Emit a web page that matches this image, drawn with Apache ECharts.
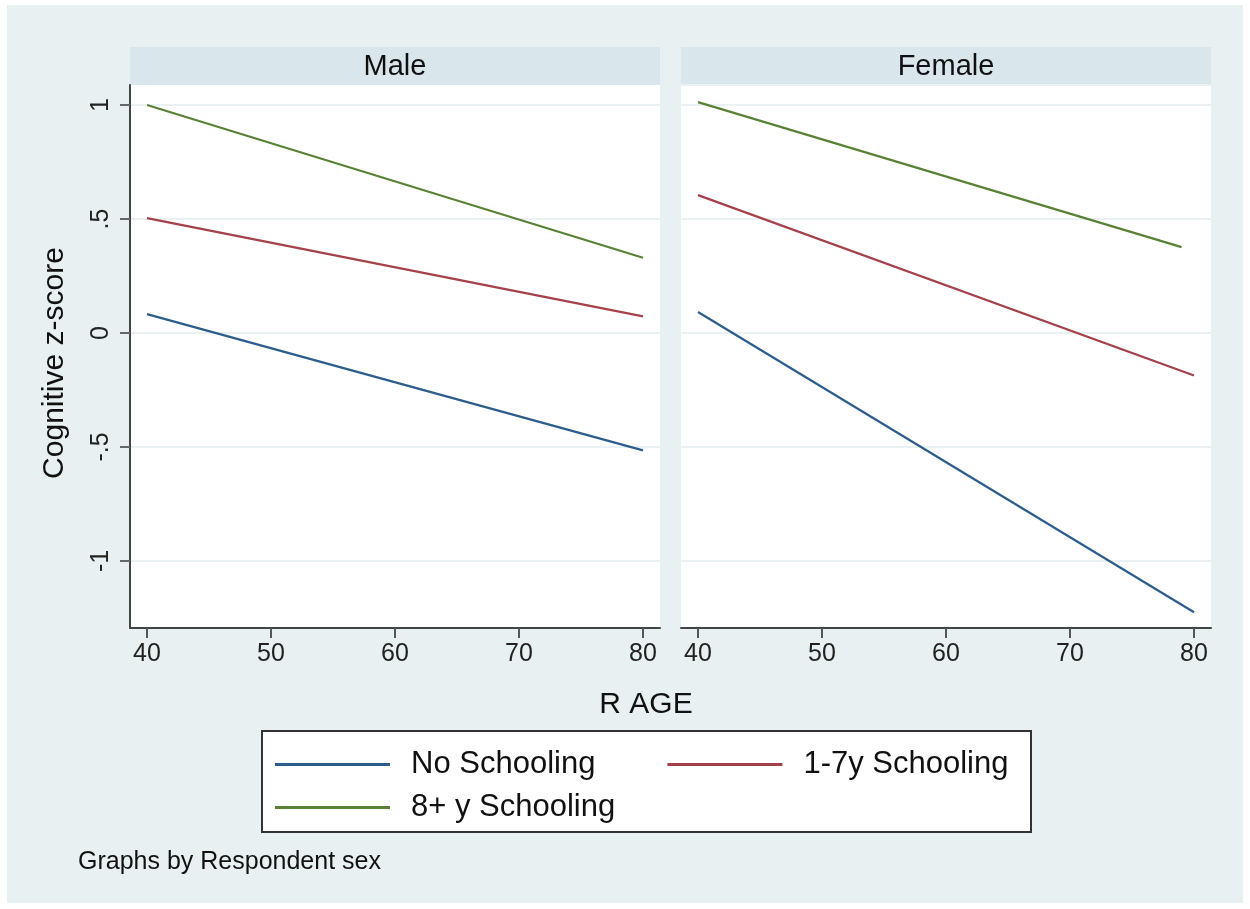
<!DOCTYPE html>
<html>
<head>
<meta charset="utf-8">
<title>Cognitive z-score by age</title>
<script src="https://cdn.jsdelivr.net/npm/echarts@6/dist/echarts.min.js"></script>
<style>
  html, body { margin: 0; padding: 0; background: #fff; }
  #chart { width: 1250px; height: 909px; }
</style>
</head>
<body>
<div id="chart"></div>
<script>
// panels
var panels = ['Male', 'Female'];
var seriesNames = ['No Schooling', '1-7y Schooling', '8+ y Schooling'];

// x values (R AGE) at the ends of each fitted line
var maleAges = [40, 80];
var femaleAges = [40, 80];
var femaleHighAges = [40, 79];

// Cognitive z-score
var maleNo = [0.083, -0.515];
var maleMid = [0.504, 0.073];
var maleHigh = [1.0, 0.33];
var femaleNo = [0.092, -1.225];
var femaleMid = [0.605, -0.186];
var femaleHigh = [1.013, 0.377];

// ticks
var xTicks = [40, 50, 60, 70, 80];
var yTicks = [-1, -0.5, 0, 0.5, 1];

var colors = ['#2c5d8c', '#a4414a', '#5a8236'];
var font = 'Liberation Sans, Arial, sans-serif';

function pairs(xs, ys) {
  return xs.map(function (x, i) { return [x, ys[i]]; });
}

function yFmt(v) {
  var s = String(v);
  return s.replace(/^0\./, '.').replace(/^-0\./, '-.');
}

var chart = echarts.init(document.getElementById('chart'));

var xAxisBase = {
  type: 'value',
  min: 38.63,
  max: 81.37,
  axisLine: { show: true, onZero: false, lineStyle: { color: '#444', width: 2 } },
  axisTick: { show: true, length: 10, customValues: xTicks, lineStyle: { color: '#555', width: 2 } },
  axisLabel: { customValues: xTicks, color: '#222', fontSize: 25, fontFamily: font, margin: 14 },
  splitLine: { show: false }
};

var yAxisBase = {
  type: 'value',
  min: -1.294,
  max: 1.088,
  axisLine: { show: true, onZero: false, lineStyle: { color: '#444', width: 2 } },
  axisTick: { show: true, length: 10, customValues: yTicks, lineStyle: { color: '#666', width: 2 } },
  axisLabel: { customValues: yTicks, color: '#222', fontSize: 25, fontFamily: font, rotate: 90, margin: 16, formatter: yFmt },
  splitLine: { show: true, lineStyle: { color: '#e9f1f3', width: 2 } }
};

var lineSeries = function (name, grid, data, c) {
  return {
    name: name, type: 'line', xAxisIndex: grid, yAxisIndex: grid,
    data: data, symbol: 'none', silent: true,
    lineStyle: { color: c, width: 2.2 }, itemStyle: { color: c }
  };
};

var legendText = { fontSize: 31, lineHeight: 31, fontFamily: font, color: '#111', padding: [0, 0, 0, 16] };

chart.setOption({
  backgroundColor: '#ffffff',
  animation: false,
  grid: [
    { left: 130, top: 85, width: 530, height: 543, show: true, backgroundColor: '#ffffff', borderWidth: 0 },
    { left: 681, top: 85, width: 530, height: 543, show: true, backgroundColor: '#ffffff', borderWidth: 0 }
  ],
  xAxis: [
    Object.assign({}, xAxisBase, { gridIndex: 0 }),
    Object.assign({}, xAxisBase, { gridIndex: 1 })
  ],
  yAxis: [
    Object.assign({}, yAxisBase, { gridIndex: 0 }),
    Object.assign({}, yAxisBase, {
      gridIndex: 1,
      axisLine: { show: false },
      axisTick: { show: false },
      axisLabel: { show: false }
    })
  ],
  legend: [
    {
      data: [seriesNames[0], seriesNames[1]],
      left: 275, top: 749, padding: 0,
      icon: 'rect', itemWidth: 115, itemHeight: 3, itemGap: 72,
      textStyle: legendText,
      selectedMode: false
    },
    {
      data: [seriesNames[2]],
      left: 275, top: 792, padding: 0,
      icon: 'rect', itemWidth: 115, itemHeight: 3,
      textStyle: legendText,
      selectedMode: false
    }
  ],
  graphic: [
    { type: 'rect', z: -10, silent: true, shape: { x: 7, y: 5, width: 1236, height: 898 }, style: { fill: '#e8f0f2' } },
    { type: 'rect', z: -5, silent: true, shape: { x: 130, y: 47, width: 530, height: 38 }, style: { fill: '#d9e6eb' } },
    { type: 'rect', z: -5, silent: true, shape: { x: 681, y: 47, width: 530, height: 38 }, style: { fill: '#d9e6eb' } },
    { type: 'text', silent: true, x: 395, y: 67, style: { text: panels[0], fill: '#111', font: '29px ' + font, align: 'center', verticalAlign: 'middle' } },
    { type: 'text', silent: true, x: 946, y: 67, style: { text: panels[1], fill: '#111', font: '29px ' + font, align: 'center', verticalAlign: 'middle' } },
    { type: 'text', silent: true, x: 646, y: 705, style: { text: 'R AGE', fill: '#111', font: '30px ' + font, align: 'center', verticalAlign: 'middle' } },
    { type: 'text', silent: true, x: 55, y: 363, rotation: Math.PI / 2, style: { text: 'Cognitive z-score', fill: '#111', font: '30px ' + font, align: 'center', verticalAlign: 'middle' } },
    { type: 'rect', z: -1, silent: true, shape: { x: 262, y: 731, width: 769, height: 101 }, style: { fill: '#ffffff', stroke: '#333', lineWidth: 2 } },
    { type: 'text', silent: true, x: 78, y: 862, style: { text: 'Graphs by Respondent sex', fill: '#111', font: '25px ' + font, align: 'left', verticalAlign: 'middle' } }
  ],
  series: [
    lineSeries(seriesNames[0], 0, pairs(maleAges, maleNo), colors[0]),
    lineSeries(seriesNames[1], 0, pairs(maleAges, maleMid), colors[1]),
    lineSeries(seriesNames[2], 0, pairs(maleAges, maleHigh), colors[2]),
    lineSeries(seriesNames[0], 1, pairs(femaleAges, femaleNo), colors[0]),
    lineSeries(seriesNames[1], 1, pairs(femaleAges, femaleMid), colors[1]),
    lineSeries(seriesNames[2], 1, pairs(femaleHighAges, femaleHigh), colors[2])
  ]
});
</script>
</body>
</html>
